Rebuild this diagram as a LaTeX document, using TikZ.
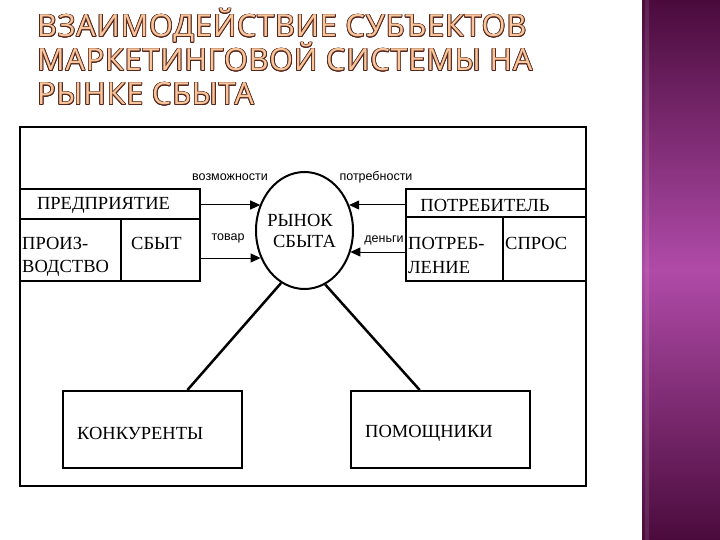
\documentclass[tikz,border=0pt]{standalone}
\usepackage{fontspec}
\setmainfont{Liberation Serif}
\newfontfamily\labfont{Liberation Sans}
\newfontfamily\titlefont[LetterSpace=3]{Open Sans}
\usepackage{contour}
\contourlength{0.8pt}
\contournumber{16}
\usetikzlibrary{shapes.geometric,arrows.meta,calc}
\definecolor{sidetop}{HTML}{4A0B3C}
\definecolor{sidemid}{HTML}{B04BA8}
\definecolor{titlefill}{HTML}{F8C69A}
\definecolor{titleline}{HTML}{55261E}
\tikzset{
  serif/.style={font=\fontsize{18.5}{20}\selectfont, inner sep=0pt},
  lab/.style={font=\labfont\fontsize{12.5}{14}\selectfont, inner sep=0pt},
  arr/.style={line width=1pt, -{Triangle[length=10pt,width=9pt]}},
  link/.style={line width=2.5pt},
  ttl/.style={anchor=base west, inner sep=0pt, font=\titlefont\fontsize{30.5}{34}\selectfont}
}
\newcommand{\ttltext}[1]{\contour{titleline}{\textcolor{titlefill}{#1}}}
\begin{document}
\begin{tikzpicture}[x=1pt,y=-1pt]
\useasboundingbox (0,0) rectangle (720,540);
\fill[white] (0,0) rectangle (720,540);
% sidebar
\shade[top color=sidetop, bottom color=sidemid] (642,0) rectangle (720,270);
\shade[top color=sidemid, bottom color=sidetop] (642,270) rectangle (720,540);
\shade[top color=sidetop!80!white, bottom color=sidemid!85!white, opacity=0.5] (645,0) rectangle (649,270);
\shade[top color=sidemid!85!white, bottom color=sidetop!80!white, opacity=0.5] (645,270) rectangle (649,540);
% title
\node[ttl] (t1) at (37,37) {\ttltext{ВЗАИМОДЕЙСТВИЕ СУБЪЕКТОВ}};
\node[ttl] (t2) at (37,71) {\ttltext{МАРКЕТИНГОВОЙ СИСТЕМЫ НА}};
\node[ttl] (t3) at (37,105) {\ttltext{РЫНКЕ СБЫТА}};
% frame
\draw[line width=2pt] (20,127) rectangle (586,486);
% left block
\draw[line width=2pt] (20,189) rectangle (200,219);
\draw[line width=2pt] (20,219) rectangle (121,281);
\draw[line width=2pt] (121,219) rectangle (200,281);
\node[serif, anchor=center] (pred) at (103.5,205) {ПРЕДПРИЯТИЕ};
\node[serif, anchor=west] (proiz1) at (22,243) {ПРОИЗ-};
\node[serif, anchor=west] (proiz2) at (22,268) {ВОДСТВО};
\node[serif, anchor=west] (sbyt) at (131,243) {СБЫТ};
% right block
\draw[line width=2pt] (406,189) rectangle (586,217);
\draw[line width=2pt] (406,217) rectangle (503,281);
\draw[line width=2pt] (503,217) rectangle (586,281);
\node[serif, anchor=center] (potr) at (485,205) {ПОТРЕБИТЕЛЬ};
\node[serif, anchor=west] (potreb1) at (408,243) {ПОТРЕБ-};
\node[serif, anchor=west] (potreb2) at (408,268) {ЛЕНИЕ};
\node[serif, anchor=west] (spros) at (505,243) {СПРОС};
% market ellipse
\node[ellipse, draw, line width=2pt, minimum width=97pt, minimum height=117pt, inner sep=0pt] (rynok) at (304.5,230.5) {};
\node[serif, anchor=center] (r1) at (300,220) {РЫНОК};
\node[serif, anchor=center] (r2) at (304.5,241) {СБЫТА};
% arrow starts
\coordinate (vs) at (200,205);
\coordinate (ts) at (200,258);
\coordinate (ps) at (406,205);
\coordinate (ds) at (406,252);
\draw[arr] (vs) -- (vs -| rynok.149.7);
\draw[arr] (ts) -- (ts -| rynok.212.7);
\draw[arr] (ps) -- (ps -| rynok.30.3);
\draw[arr] (ds) -- (ds -| rynok.334.5);
\node[lab] (lv) at (230,177) {возможности};
\node[lab] (lt) at (228,238) {товар};
\node[lab] (lp) at (376,177) {потребности};
\node[lab] (ld) at (384,240) {деньги};
% bottom boxes
\node[draw, line width=2pt, minimum width=179pt, minimum height=77pt, inner sep=0pt] (kon) at (152.5,429.5) {};
\node[draw, line width=2pt, minimum width=179pt, minimum height=77pt, inner sep=0pt] (pom) at (440.5,429.5) {};
\node[serif, anchor=west] (kont) at (77,433) {КОНКУРЕНТЫ};
\node[serif, anchor=west] (pomt) at (365,433) {ПОМОЩНИКИ};
\draw[link] (rynok.246.8) -- ($(kon.north west)!0.693!(kon.north east)$);
\draw[link] (rynok.291.3) -- ($(pom.north west)!0.385!(pom.north east)$);
\end{tikzpicture}
\end{document}
